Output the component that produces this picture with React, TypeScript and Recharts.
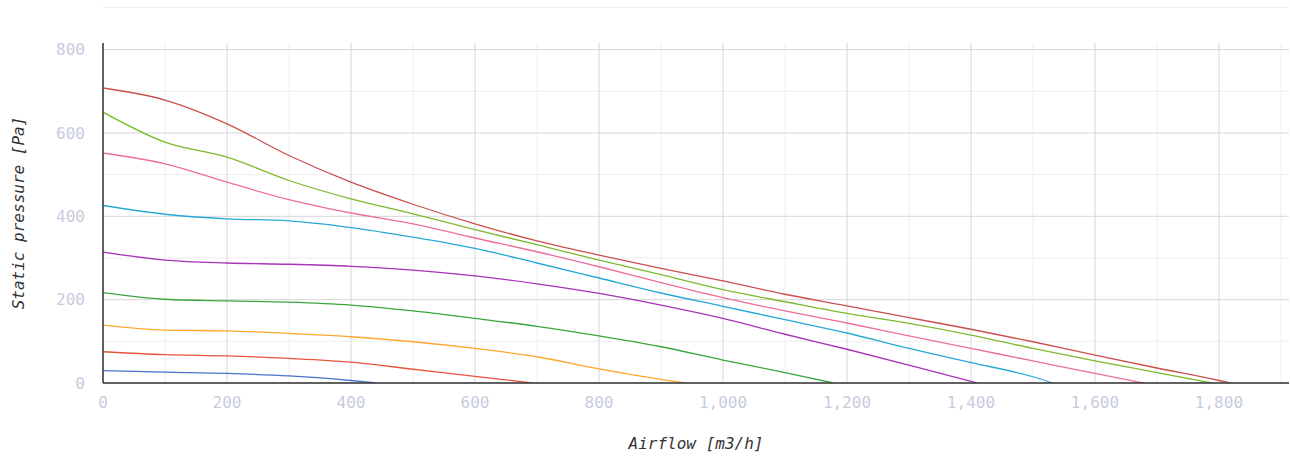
import { LineChart, Line, XAxis, YAxis, CartesianGrid, Label } from "recharts";

// airflow sample points [m3/h], shared by every curve
const airflowSteps = [0, 100, 200, 300, 400, 500, 600, 700, 800, 900, 1000, 1100, 1200, 1300, 1400, 1500, 1600, 1700, 1800];

// static pressure [Pa] read at airflowSteps, lowest speed first
const curve1 = [29.5, 26, 23, 17, 6];
const curve2 = [75, 68, 65, 59, 50, 33, 16];
const curve3 = [139, 127, 125, 119, 111, 99, 83, 63, 34];
const curve4 = [217, 201, 197, 194, 187, 173, 155, 136, 113, 87, 55, 25];
const curve5 = [314, 295, 288, 285, 280, 271, 257, 238, 215, 187, 155, 117, 81, 43, 4];
const curve6 = [426, 405, 394, 389, 373, 350, 323, 288, 252, 216, 184, 152, 120, 83, 49, 15];
const curve7 = [552, 526, 482, 440, 408, 382, 348, 315, 279, 241, 205, 173, 144, 113, 83, 53, 23];
const curve8 = [650, 578, 542, 486, 442, 406, 368, 332, 295, 260, 224, 195, 167, 143, 115, 83, 53, 25];
const curve9 = [708, 679, 622, 546, 482, 429, 382, 341, 307, 275, 245, 213, 185, 157, 129, 99, 67, 36, 6];

// airflow where each curve reaches 0 Pa
const curveEnds = [440, 692, 938, 1178, 1410, 1532, 1679, 1788, 1818];

const curveColors = ["#4a72cf", "#e8553e", "#ffa62e", "#3aa63a", "#a832b8", "#28a8d6", "#ee6e98", "#7dba2e", "#cb4f4f"];

const xTicks = [0, 200, 400, 600, 800, 1000, 1200, 1400, 1600, 1800];
const xMinor = [100, 300, 500, 700, 900, 1100, 1300, 1500, 1700, 1900];
const yTicks = [0, 200, 400, 600, 800];
const yMinor = [100, 300, 500, 700];

const curves = [curve1, curve2, curve3, curve4, curve5, curve6, curve7, curve8, curve9];

const series = curves.map((pres, i) => [
  ...pres.map((p, j) => ({ x: airflowSteps[j], y: p })),
  { x: curveEnds[i], y: 0 },
]);

const MONO = "'DejaVu Sans Mono', monospace";
const tickStyle = { fontSize: 16, fill: "#c8cbdd", fontFamily: MONO };

export default function App() {
  return (
    <div style={{ position: "absolute", left: 0, top: 0, width: 1290, height: 459, background: "#fff" }}>
      <div style={{ position: "absolute", left: 103, top: 7, width: 1186, height: 1, background: "#eeeeee" }} />
      <LineChart width={1290} height={459} margin={{ top: 43, right: 1, bottom: 46, left: 0 }}>
        <CartesianGrid stroke="#eeeeee" horizontalValues={yMinor} verticalValues={xMinor} />
        <CartesianGrid stroke="#d6d6d6" horizontalValues={yTicks} verticalValues={xTicks} />
        <XAxis
          type="number"
          dataKey="x"
          domain={[0, 1913]}
          ticks={xTicks}
          allowDataOverflow
          tickFormatter={(v) => v.toLocaleString("en-US")}
          tick={tickStyle}
          tickLine={false}
          tickMargin={8}
          axisLine={{ stroke: "#333", strokeWidth: 1.5 }}
          height={30}
        >
          <Label
            content={({ viewBox }: any) => (
              <text
                x={viewBox.x + viewBox.width / 2}
                y={viewBox.y + 60}
                textAnchor="middle"
                dominantBaseline="central"
                style={{ fontSize: 16, fontStyle: "italic", fill: "#333", fontFamily: MONO }}
              >
                Airflow [m3/h]
              </text>
            )}
          />
        </XAxis>
        <YAxis
          type="number"
          dataKey="y"
          domain={[0, 816]}
          ticks={yTicks}
          allowDataOverflow
          tick={tickStyle}
          tickLine={false}
          tickMargin={12}
          axisLine={{ stroke: "#333", strokeWidth: 1.5 }}
          width={103}
        >
          <Label
            content={({ viewBox }: any) => {
              const cx = 18;
              const cy = viewBox.y + viewBox.height / 2;
              return (
                <text
                  x={cx}
                  y={cy}
                  textAnchor="middle"
                  dominantBaseline="central"
                  transform={`rotate(-90 ${cx} ${cy})`}
                  style={{ fontSize: 16, fontStyle: "italic", fill: "#333", fontFamily: MONO }}
                >
                  Static pressure [Pa]
                </text>
              );
            }}
          />
        </YAxis>
        {series.map((d, i) => (
          <Line
            key={i}
            data={d}
            dataKey="y"
            type="monotone"
            stroke={curveColors[i]}
            strokeWidth={1.3}
            dot={false}
            activeDot={false}
            isAnimationActive={false}
          />
        ))}
      </LineChart>
    </div>
  );
}
